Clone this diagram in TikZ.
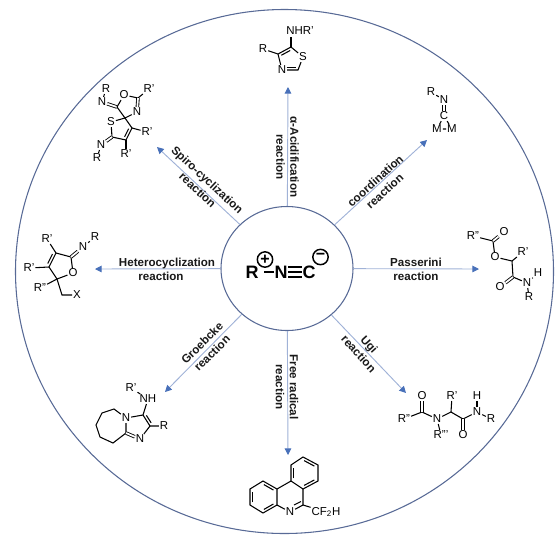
\documentclass[tikz,border=0pt]{standalone}
\usepackage{fontspec}
\setmainfont{Liberation Sans}
\usepackage{tikz}
\usetikzlibrary{positioning,arrows.meta,calc,shapes.geometric}
\usepackage{xcolor}
\definecolor{rimblue}{RGB}{88,106,150}
\definecolor{shaftblue}{RGB}{160,178,215}
\definecolor{tipblue}{RGB}{72,112,185}
\definecolor{inkgray}{RGB}{25,25,25}
\newcommand{\ringbond}[3]{\draw[bond] ($(#1)!.16!(#2)!#3!90:(#2)$) -- ($(#2)!.16!(#1)!#3!-90:(#1)$);}

\begin{document}
\begin{tikzpicture}[
  x=0.75pt,y=-0.75pt,
  rim/.style={ellipse,draw=rimblue,line width=0.8pt,inner sep=0pt,minimum width=403.5pt,minimum height=393pt},
  core/.style={ellipse,draw=rimblue,line width=0.8pt,inner sep=0pt,minimum width=99pt,minimum height=93pt},
  ar/.style={-{Triangle[length=5pt,width=5pt,color=tipblue]},line width=0.7pt,shaftblue},
  lab/.style={align=center,inner sep=0pt,inkgray,font=\bfseries\fontsize{8.7}{10.6}\selectfont},
  atom/.style={inner sep=0.6pt,text=black,font=\fontsize{8.6}{8.6}\selectfont},
  coreatom/.style={inner sep=0.5pt,text=black,font=\bfseries\fontsize{13.5}{14}\selectfont},
  charge/.style={circle,draw=black,line width=1.1pt,inner sep=0pt,minimum size=11.5pt,text=black,font=\bfseries\fontsize{12}{12}\selectfont},
  bond/.style={line width=0.8pt,black},
  dblbond/.style={double=white,double distance=1.3pt,line width=0.65pt,black},
  corebond/.style={line width=1.4pt,black}
]
\useasboundingbox (0,0) rectangle (560,537);
% OUTER RING AND CENTRE
\node[rim] (ring) at (284.5,271.5) {};
\node[core] (hub) at (287,268.5) {};
\node[coreatom] (cR) at (252,272) {R};
\node[coreatom] (cN) at (281,272) {N};
\node[coreatom] (cC) at (309,272) {C};
\node[charge] (plus) at (265,259.5) {+};
\node[charge] (minus) at (320.5,257) {\raisebox{0.6pt}{\textminus}};
\draw[corebond] ([xshift=3.5pt]cR.east) -- (cN.west);
\draw[corebond] ([yshift=4pt]cN.east) -- ([yshift=4pt]cC.west);
\draw[corebond] (cN) -- (cC);
\draw[corebond] ([yshift=-4pt]cN.east) -- ([yshift=-4pt]cC.west);

% ARROWS WITH TWO-LINE LABELS
\coordinate (tipAcid) at (288,87);
\coordinate (tipCoord) at (427,140);
\coordinate (tipPass) at (479,269);
\coordinate (tipUgi) at (406,393);
\coordinate (tipFree) at (288,455);
\coordinate (tipGroe) at (165,392);
\coordinate (tipHet) at (95,269);
\coordinate (tipSpiro) at (157,147);
\foreach \t in {Acid,Coord,Pass,Ugi,Free,Groe,Het,Spiro}
  \draw[ar] (hub) -- (tip\t);
\node[lab,rotate=-90] (lAcid) at (287.5,157) {α-Acidification\\reaction};
\node[lab,rotate=42] (lCoord) at (380,186) {coordination\\reaction};
\node[lab] (lPass) at (416,269) {Passerini\\reaction};
\node[lab,rotate=-48] (lUgi) at (364,349) {Ugi\\reaction};
\node[lab,rotate=-90] (lFree) at (287,387) {Free radical\\reaction};
\node[lab,rotate=45] (lGroe) at (207,348) {Groebcke\\reaction};
\node[lab] (lHet) at (167,269) {Heterocyclization\\reaction\hspace*{9pt}};
\node[lab,rotate=-43] (lSpiro) at (202.5,185) {Spiro-cyclization\\reaction};

% TOP: thiazole
\node[atom] (a1R) at (263,49) {R};
\node[atom] (a1NH) at (300,31) {NHR'};
\node[atom] (a1S) at (303,57) {S};
\node[atom] (a1N) at (282,70) {N};
\coordinate (a1c4) at (278,54);
\coordinate (a1c5) at (291,47);
\coordinate (a1c2) at (298,70);
\draw[bond] (a1R) -- (a1c4) -- (a1c5) -- (a1S) -- (a1c2) -- (a1N) -- (a1c4);
\draw[bond] (a1c5) -- (291,37);
\ringbond{a1c4}{a1c5}{-2pt}
\draw[bond] (286.5,67.5) -- (296,67.5);

% TOP RIGHT: metal complex
\node[atom] (a2R) at (431,92) {R};
\node[atom] (a2N) at (444,100) {N};
\node[atom] (a2C) at (444,116) {C};
\node[atom] (a2M1) at (437,129) {M};
\node[atom] (a2M2) at (452,129) {M};
\draw[bond] (a2R) -- (a2N);
\draw[dblbond] (a2N) -- (a2C);
\draw[bond] (a2C) -- (a2M1) -- (a2M2) -- (a2C);

% RIGHT: Passerini product
\node[atom] (a3Rb) at (473,236) {R''};
\node[atom] (a3Oa) at (504,232) {O};
\node[atom] (a3Ob) at (495,257) {O};
\node[atom] (a3Ra) at (523,252) {R'};
\node[atom] (a3Oc) at (500,287) {O};
\node[atom] (a3N) at (527,283) {N};
\node[atom] (a3H) at (538,273) {H};
\node[atom] (a3R) at (529,297) {R};
\coordinate (a3c1) at (493,241);
\coordinate (a3c2) at (512,261);
\coordinate (a3c3) at (513,277);
\draw[bond] (a3Rb) -- (a3c1) -- (a3Ob) -- (a3c2) -- (a3c3) -- (a3N) -- (a3H);
\draw[bond] (a3c2) -- (a3Ra);
\draw[bond] (a3N) -- (a3R);
\draw[dblbond] (a3c1) -- (a3Oa);
\draw[dblbond] (a3c3) -- (a3Oc);

% BOTTOM RIGHT: Ugi product
\node[atom] (a4Rb) at (404,419) {R''};
\node[atom] (a4Oa) at (422,396) {O};
\node[atom] (a4N) at (437,419) {N};
\node[atom] (a4Rc) at (441,435) {R'''};
\node[atom] (a4Ra) at (452,396) {R'};
\node[atom] (a4Ob) at (463,435) {O};
\node[atom] (a4Nb) at (477,412) {N};
\node[atom] (a4H) at (477,396) {H};
\node[atom] (a4R) at (491,419) {R};
\coordinate (a4c1) at (422,412);
\coordinate (a4c2) at (451,412);
\coordinate (a4c3) at (463,419);
\draw[bond] (a4Rb) -- (a4c1) -- (a4N) -- (a4c2) -- (a4c3) -- (a4Nb) -- (a4R);
\draw[bond] (a4N) -- (a4Rc);
\draw[bond] (a4c2) -- (a4Ra);
\draw[bond] (a4Nb) -- (a4H);
\draw[dblbond] (a4c1) -- (a4Oa);
\draw[dblbond] (a4c3) -- (a4Ob);

% BOTTOM: phenanthridine
\coordinate (a5t1) at (303,457);
\coordinate (a5t2) at (318,465);
\coordinate (a5t3) at (318,481);
\coordinate (a5t4) at (303,489);
\coordinate (a5t5) at (291,481);
\coordinate (a5t6) at (291,465);
\coordinate (a5l1) at (263,481);
\coordinate (a5l2) at (277,489);
\coordinate (a5l3) at (277,505);
\coordinate (a5l4) at (263,513);
\coordinate (a5l5) at (250,505);
\coordinate (a5l6) at (250,489);
\coordinate (a5c) at (303,505);
\node[atom] (a5N) at (290,512) {N};
\node[atom] (a5F) at (326,512) {CF\textsubscript{2}H};
\draw[bond] (a5t1) -- (a5t2) -- (a5t3) -- (a5t4) -- (a5t5) -- (a5t6) -- cycle;
\draw[bond] (a5l1) -- (a5l2) -- (a5l3) -- (a5l4) -- (a5l5) -- (a5l6) -- cycle;
\draw[bond] (a5l2) -- (a5t5);
\draw[bond] (a5t4) -- (a5c) -- (a5F);
\draw[bond] (a5l3) -- (a5N);
\draw[bond] (a5N) -- (a5c);
\draw[bond] (294,505) -- (301,501.5);
\ringbond{a5t1}{a5t2}{-2pt}
\ringbond{a5t3}{a5t4}{-2pt}
\ringbond{a5t5}{a5t6}{-2pt}
\ringbond{a5l1}{a5l2}{-2pt}
\ringbond{a5l3}{a5l4}{-2pt}
\ringbond{a5l5}{a5l6}{-2pt}

% BOTTOM LEFT: imidazo ring
\node[atom] (a6Ra) at (131,388) {R'};
\node[atom] (a6NH) at (148,399) {NH};
\node[atom] (a6N) at (126,418) {N};
\node[atom] (a6R) at (164,426) {R};
\node[atom] (a6Nb) at (140,439) {N};
\coordinate (a6c3) at (143,415);
\coordinate (a6c2) at (150,426);
\coordinate (a6c8) at (126,433);
\coordinate (a6r1) at (114,409);
\coordinate (a6r2) at (102,413);
\coordinate (a6r3) at (96,425);
\coordinate (a6r4) at (100,437);
\coordinate (a6r5) at (113,443);
\draw[bond] (a6Ra) -- (a6NH) -- (a6c3) -- (a6N) -- (a6c8);
\draw[bond] (a6c3) -- (a6c2) -- (a6R);
\draw[bond] (a6c2) -- (a6Nb);
\draw[bond] (a6N) -- (a6r1) -- (a6r2) -- (a6r3) -- (a6r4) -- (a6r5) -- (a6c8);
\draw[dblbond] (a6Nb) -- (a6c8);
\ringbond{a6c3}{a6c2}{2pt}

% LEFT: furan imine
\node[atom] (a7Ra) at (47,239) {R'};
\node[atom] (a7Rb) at (29,268) {R'};
\node[atom] (a7Rc) at (40,288) {R''};
\node[atom] (a7N) at (83,247) {N};
\node[atom] (a7R) at (95,237) {R};
\node[atom] (a7O) at (73,273) {O};
\node[atom] (a7X) at (77,295) {X};
\coordinate (a7c1) at (56,253);
\coordinate (a7c2) at (71,257);
\coordinate (a7c3) at (57,279);
\coordinate (a7c4) at (49,267);
\coordinate (a7c5) at (62,295);
\draw[bond] (a7Ra) -- (a7c1) -- (a7c2) -- (a7O) -- (a7c3) -- (a7c4) -- (a7c1);
\draw[bond] (a7c4) -- (a7Rb);
\draw[bond] (a7c3) -- (a7Rc);
\draw[bond] (a7c3) -- (a7c5) -- (a7X);
\draw[bond] (a7N) -- (a7R);
\draw[dblbond] (a7c2) -- (a7N);
\ringbond{a7c1}{a7c4}{-2pt}

% TOP LEFT: spiro compound
\node[atom] (a8Ra) at (106,89) {R};
\node[atom] (a8Na) at (102,102) {N};
\node[atom] (a8O) at (124,95) {O};
\node[atom] (a8Rb) at (149,89) {R'};
\node[atom] (a8Nb) at (137,112) {N};
\node[atom] (a8S) at (111,122) {S};
\node[atom] (a8Rc) at (147,132) {R'};
\node[atom] (a8Rd) at (126,154) {R'};
\node[atom] (a8Nc) at (101,145) {N};
\node[atom] (a8Re) at (97,158) {R};
\coordinate (a8c1) at (117,107);
\coordinate (a8c2) at (138,98);
\coordinate (a8c3) at (125,118);
\coordinate (a8c4) at (112,137);
\coordinate (a8c5) at (126,140);
\coordinate (a8c6) at (132,128);
\draw[bond] (a8Ra) -- (a8Na);
\draw[dblbond] (a8Na) -- (a8c1);
\draw[bond] (a8c1) -- (a8O) -- (a8c2) -- (a8Rb);
\draw[dblbond] (a8c2) -- (a8Nb);
\draw[bond] (a8Nb) -- (a8c3) -- (a8c1);
\draw[bond] (a8c3) -- (a8S) -- (a8c4) -- (a8c5) -- (a8c6) -- (a8c3);
\draw[bond] (a8c6) -- (a8Rc);
\draw[bond] (a8c5) -- (a8Rd);
\draw[dblbond] (a8c4) -- (a8Nc);
\draw[bond] (a8Nc) -- (a8Re);
\ringbond{a8c5}{a8c6}{2pt}
\end{tikzpicture}
\end{document}
